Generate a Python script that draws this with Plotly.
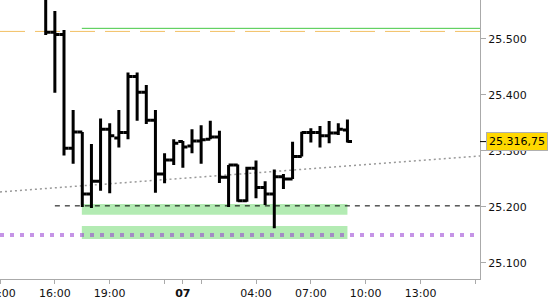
import plotly.graph_objects as go

# ---- data (30-minute bars, x = slot index; slot 0 = 16:00) ----
bar_slot = list(range(-1, 33))
open_ = [25590, 25512, 25508, 25305, 25334, 25223, 25246, 25339, 25323, 25333,
         25433, 25405, 25355, 25259, 25284, 25317, 25309, 25318, 25321, 25325,
         25253, 25275, 25211, 25269, 25235, 25223, 25254, 25250, 25290, 25333,
         25333, 25327, 25332, 25337.5]
high = [25600, 25550, 25516, 25373, 25334, 25312.5, 25358, 25349.5, 25373, 25440,
        25440, 25418, 25373, 25296, 25321, 25318, 25339, 25346, 25354, 25336,
        25275, 25276, 25272, 25283, 25246, 25267, 25259, 25316.6, 25334.5, 25340.5,
        25344.6, 25353.6, 25349.5, 25356]
low = [25507, 25404, 25292, 25277, 25200, 25198, 25229, 25224.5, 25306, 25321,
       25354, 25348, 25225.5, 25242.5, 25275, 25270, 25296, 25277, 25321, 25243,
       25200, 25209.5, 25209.5, 25215.5, 25203.6, 25162, 25232, 25250, 25290, 25315,
       25306, 25314, 25328.6, 25315]
close = [25512, 25508, 25305, 25334, 25223, 25246, 25339, 25327, 25333, 25433,
         25405, 25355, 25259, 25284, 25314, 25307, 25318, 25320, 25325, 25253,
         25275, 25211, 25269, 25235, 25223, 25254, 25250, 25290, 25333, 25333,
         25327, 25332, 25339, 25316.75]

tick_slots = [-6, 0, 6, 12, 14, 16, 22, 28, 34, 40, 46]
tick_text = ["13:00", "16:00", "19:00", "", "<b>07</b>", "", "04:00", "07:00", "10:00", "13:00", ""]

price_ticks = [25100, 25200, 25300, 25400, 25500]
price_text = ["25.100", "25.200", "25.300", "25.400", "25.500"]

level_orange = 25513.5
level_green = 25519
level_black = 25202
level_purple = 25150
zone_upper = [25186, 25205.5]
zone_lower = [25143, 25166]
zone_slots = [2.95, 32]
trend_x = [-6, 46.5]
trend_y = [25226.8, 25291]
last_price = 25316.75
last_text = "25.316,75"

x_range = [-6, 46.5]
y_range = [25071.4, 25569.6]

fig = go.Figure()
fig.add_trace(go.Ohlc(
    x=bar_slot, open=open_, high=high, low=low, close=close,
    increasing=dict(line=dict(color="black", width=3)),
    decreasing=dict(line=dict(color="black", width=3)),
    tickwidth=0.5, hoverinfo="skip", showlegend=False,
))

shapes = [
    # green zones
    dict(type="rect", xref="x", yref="y", x0=zone_slots[0], x1=zone_slots[1],
         y0=zone_upper[0], y1=zone_upper[1], fillcolor="#b3ebb3", line=dict(width=0), layer="below"),
    dict(type="rect", xref="x", yref="y", x0=zone_slots[0], x1=zone_slots[1],
         y0=zone_lower[0], y1=zone_lower[1], fillcolor="#b3ebb3", line=dict(width=0), layer="below"),
    # purple dotted level
    dict(type="line", xref="x", yref="y", x0=x_range[0], x1=x_range[1], y0=level_purple, y1=level_purple,
         line=dict(color="rgba(150,60,210,0.55)", width=4, dash="4px,6px"), layer="below"),
    # orange dashed level
    dict(type="line", xref="x", yref="y", x0=x_range[0], x1=x_range[1], y0=level_orange, y1=level_orange,
         line=dict(color="#f2c063", width=1, dash="25px,10px"), layer="below"),
    # green solid level
    dict(type="line", xref="x", yref="y", x0=zone_slots[0], x1=x_range[1], y0=level_green, y1=level_green,
         line=dict(color="#44c844", width=1), layer="below"),
    # black dashed level
    dict(type="line", xref="x", yref="y", x0=0, x1=x_range[1], y0=level_black, y1=level_black,
         line=dict(color="black", width=1, dash="5px,5px"), layer="below"),
    # grey dotted trend line
    dict(type="line", xref="x", yref="y", x0=trend_x[0], x1=trend_x[1], y0=trend_y[0], y1=trend_y[1],
         line=dict(color="#999999", width=1.5, dash="2px,3px"), layer="below"),
    # last price tick on axis
    dict(type="line", xref="paper", yref="y", x0=1, x1=1.0125, y0=last_price, y1=last_price,
         line=dict(color="black", width=1)),
]

fig.update_layout(
    width=550, height=300,
    margin=dict(l=0, r=70, t=0, b=21, autoexpand=False),
    paper_bgcolor="white", plot_bgcolor="white",
    font=dict(family="DejaVu Sans", size=11, color="#111"),
    shapes=shapes,
    showlegend=False,
    xaxis=dict(range=x_range, tickmode="array", tickvals=tick_slots, ticktext=tick_text,
               showgrid=False, zeroline=False, showline=True, linecolor="#aaaaaa", linewidth=1,
               ticks="outside", ticklen=4, tickcolor="#aaaaaa", ticklabeloverflow="allow",
               automargin=False, rangeslider=dict(visible=False), fixedrange=True),
    yaxis=dict(range=y_range, side="right", tickmode="array", tickvals=price_ticks, ticktext=price_text,
               showgrid=False, zeroline=False, showline=True, linecolor="#aaaaaa", linewidth=1,
               ticks="outside", ticklen=5, tickcolor="#aaaaaa", automargin=False, fixedrange=True),
    annotations=[dict(
        xref="paper", yref="y", x=1, y=last_price, xanchor="left", yanchor="middle", xshift=6,
        text=last_text, showarrow=False, font=dict(family="DejaVu Sans", size=11, color="black"),
        bgcolor="#ffd800", bordercolor="#b0b0b0", borderwidth=1, borderpad=2,
    )],
)

fig.write_html("out.html")
